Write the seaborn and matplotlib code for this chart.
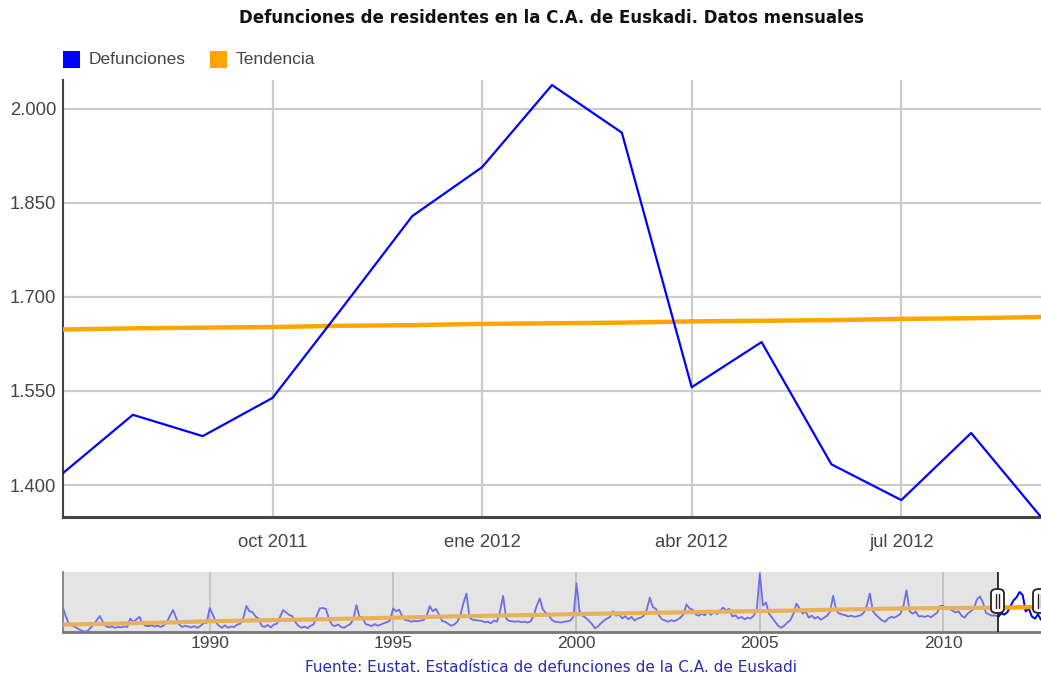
import matplotlib
matplotlib.use("Agg")
import matplotlib.pyplot as plt
import seaborn as sns
import pandas as pd
import numpy as np
from matplotlib.patches import Rectangle, FancyBboxPatch

# ---------------- data ----------------
meses_zoom = ["jul 2011", "ago 2011", "sep 2011", "oct 2011", "nov 2011", "dic 2011",
              "ene 2012", "feb 2012", "mar 2012", "abr 2012", "may 2012", "jun 2012",
              "jul 2012", "ago 2012", "sep 2012"]
defunciones = [1419, 1512, 1478, 1539, 1683, 1829, 1907, 2038, 1962, 1556, 1628, 1433,
               1376, 1483, 1349]
tendencia = [1648, 1650, 1651, 1652, 1654, 1655, 1657, 1658, 1659, 1661, 1662, 1663,
             1665, 1666, 1668]
etiquetas_x = ["oct 2011", "ene 2012", "abr 2012", "jul 2012"]
ticks_y = [1400, 1550, 1700, 1850, 2000]
etiquetas_y = ["1.400", "1.550", "1.700", "1.850", "2.000"]

# monthly history Jan 1986 - Jun 2011 (navigator)
historico = [
    1640, 1420, 1230, 1200, 1170, 1120, 1080, 1055, 1070, 1150, 1230, 1330,  # 1986
    1440, 1300, 1190, 1160, 1180, 1150, 1170, 1160, 1180, 1170, 1380, 1290,  # 1987
    1360, 1420, 1260, 1200, 1190, 1210, 1180, 1200, 1170, 1210, 1290, 1450,  # 1988
    1590, 1400, 1230, 1170, 1200, 1180, 1160, 1190, 1150, 1200, 1260, 1270,  # 1989
    1640, 1480, 1290, 1200, 1150, 1210, 1150, 1180, 1170, 1230, 1250, 1400,  # 1990
    1690, 1560, 1540, 1430, 1380, 1200, 1170, 1220, 1160, 1230, 1250, 1420,  # 1991
    1590, 1530, 1470, 1440, 1290, 1200, 1150, 1180, 1140, 1200, 1230, 1450,  # 1992
    1630, 1640, 1620, 1380, 1220, 1190, 1230, 1170, 1150, 1200, 1240, 1360,  # 1993
    1710, 1420, 1420, 1240, 1220, 1190, 1240, 1200, 1230, 1260, 1290, 1330,  # 1994
    1630, 1560, 1600, 1430, 1340, 1330, 1300, 1320, 1310, 1330, 1340, 1450,  # 1995
    1690, 1560, 1620, 1480, 1320, 1300, 1250, 1200, 1230, 1300, 1450, 1760,  # 1996
    2000, 1400, 1350, 1340, 1330, 1320, 1290, 1300, 1260, 1330, 1300, 1560,  # 1997
    1940, 1380, 1320, 1310, 1300, 1310, 1290, 1300, 1280, 1310, 1450, 1700,  # 1998
    1880, 1600, 1520, 1450, 1340, 1300, 1290, 1280, 1300, 1310, 1330, 1420,  # 1999
    2250, 1560, 1450, 1400, 1330, 1250, 1140, 1180, 1260, 1330, 1380, 1420,  # 2000
    1560, 1450, 1480, 1380, 1440, 1360, 1420, 1330, 1380, 1400, 1450, 1600,  # 2001
    1900, 1660, 1620, 1450, 1360, 1330, 1300, 1340, 1310, 1350, 1400, 1480,  # 2002
    1730, 1630, 1600, 1480, 1450, 1500, 1460, 1560, 1470, 1550, 1490, 1580,  # 2003
    1650, 1580, 1620, 1430, 1460, 1380, 1420, 1360, 1400, 1380, 1450, 1600,  # 2004
    2500, 1700, 1780, 1500, 1400, 1300, 1200, 1150, 1200, 1280, 1340, 1500,  # 2005
    1750, 1630, 1500, 1560, 1400, 1450, 1380, 1420, 1350, 1400, 1450, 1550,  # 2006
    1945, 1580, 1500, 1480, 1460, 1430, 1450, 1420, 1440, 1460, 1520, 1700,  # 2007
    2000, 1560, 1470, 1400, 1330, 1300, 1380, 1420, 1400, 1440, 1500, 1700,  # 2008
    2080, 1560, 1500, 1550, 1430, 1440, 1420, 1450, 1410, 1470, 1520, 1690,  # 2009
    1700, 1610, 1620, 1580, 1530, 1560, 1450, 1400, 1500, 1560, 1620, 1850,  # 2010
    1930, 1780, 1520, 1480, 1450, 1460,                                      # 2011 (Jan-Jun)
]
# yearly trend (January of each year) 1986-2011
anios_tendencia = list(range(1986, 2012))
tendencia_hist = [1230, 1245, 1265, 1285, 1310, 1330, 1345, 1360, 1380, 1400, 1420,
                  1440, 1455, 1470, 1490, 1505, 1520, 1535, 1550, 1565, 1580, 1600,
                  1615, 1630, 1640, 1645]
anios_nav = [1990, 1995, 2000, 2005, 2010]

titulo = "Defunciones de residentes en la C.A. de Euskadi. Datos mensuales"
fuente = "Fuente: Eustat. Estadística de defunciones de la C.A. de Euskadi"

# ---------------- figure ----------------
sns.set_theme(style="white")
plt.rcParams["font.family"] = ["Liberation Sans", "DejaVu Sans"]

W, H = 1041, 677
fig = plt.figure(figsize=(W / 100, H / 100), dpi=100)
fig.patch.set_facecolor("white")

def fx(px):
    return px / W

def fy(py):
    return 1 - py / H

BLUE = "#0000ff"
ORANGE = "#ffa500"
GRID = "#cccccc"
TXT = "#444444"

# main axes
ax = fig.add_axes([fx(63), fy(517), fx(1041) - fx(63), fy(80) - fy(517)])
df = pd.DataFrame({"mes": np.arange(len(meses_zoom)), "defunciones": defunciones,
                   "tendencia": tendencia})
sns.lineplot(data=df, x="mes", y="defunciones", ax=ax, color=BLUE, lw=1.6, zorder=4)
sns.lineplot(data=df, x="mes", y="tendencia", ax=ax, color=ORANGE, lw=3.2, zorder=3)
ax.set_xlim(0, len(meses_zoom) - 1)
ax.set_ylim(1349, 2046)
ax.set_xticks([meses_zoom.index(e) for e in etiquetas_x])
ax.set_xticklabels(etiquetas_x)
ax.set_yticks(ticks_y)
ax.set_yticklabels(etiquetas_y)
ax.grid(True, color=GRID, lw=1.6, zorder=0)
ax.set_xlabel("")
ax.set_ylabel("")
ax.tick_params(axis="both", length=0, labelsize=13.3, colors=TXT)
ax.tick_params(axis="x", pad=12)
ax.tick_params(axis="y", pad=5)
for s in ["top", "right"]:
    ax.spines[s].set_visible(False)
ax.spines["left"].set_color("#444444")
ax.spines["left"].set_linewidth(1.5)
ax.spines["bottom"].set_color("#444444")
ax.spines["bottom"].set_linewidth(2.2)
ax.set_facecolor("white")

# navigator axes
nav = fig.add_axes([fx(63), fy(632), fx(1041) - fx(63), fy(572) - fy(632)])
serie = historico + defunciones
t = [1986 + i / 12 for i in range(len(serie))]
inicio_sel = 2011 + 6 / 12
dfn = pd.DataFrame({"t": t, "v": serie})
sel = dfn[dfn["t"] >= inicio_sel - 1e-9]
nav.axvspan(1986, inicio_sel, color="#e4e4e4", zorder=0, lw=0)
for a in anios_nav:
    nav.axvline(a, color="#bdbdbd", lw=1.2, zorder=1)
tx = anios_tendencia + [inicio_sel + i / 12 for i in range(len(tendencia))]
ty = tendencia_hist + tendencia
dft = pd.DataFrame({"t": tx, "v": ty})
sns.lineplot(data=dfn, x="t", y="v", ax=nav, color="#6e6ee6", lw=1.3, zorder=3)
sns.lineplot(data=dft, x="t", y="v", ax=nav, color="#e8b25c", lw=3.0, zorder=4)
sns.lineplot(data=sel, x="t", y="v", ax=nav, color=BLUE, lw=1.3, zorder=5)
sns.lineplot(data=dft[dft["t"] >= inicio_sel - 1e-9], x="t", y="v", ax=nav,
             color=ORANGE, lw=3.0, zorder=6)
nav.axvline(inicio_sel, color="#222222", lw=1.3, zorder=7)
nav.set_xlim(1986, t[-1])
nav.set_ylim(1045, 2535)
nav.set_xticks(anios_nav)
nav.set_xticklabels([str(a) for a in anios_nav])
nav.set_yticks([])
nav.set_xlabel("")
nav.set_ylabel("")
nav.tick_params(axis="x", length=0, labelsize=12.5, colors=TXT, pad=3)
for s in ["top", "right"]:
    nav.spines[s].set_visible(False)
nav.spines["left"].set_color("#777777")
nav.spines["left"].set_linewidth(1.2)
nav.spines["bottom"].set_color("#777777")
nav.spines["bottom"].set_linewidth(2.0)
nav.set_facecolor("white")

# navigator handles
for cx in [997.5, 1039.5]:
    hb = FancyBboxPatch((fx(cx - 6.5), fy(613)), fx(13), fy(589) - fy(613),
                        boxstyle="round,pad=0,rounding_size=0.006",
                        transform=fig.transFigure, facecolor="white",
                        edgecolor="#222222", lw=1.3, zorder=10)
    fig.add_artist(hb)
    for dx in [-1.8, 1.8]:
        fig.add_artist(plt.Line2D([fx(cx + dx), fx(cx + dx)], [fy(608), fy(594)],
                                  transform=fig.transFigure, color="#222222", lw=1.0,
                                  zorder=11))

# title
fig.text(fx(551), fy(18), titulo, ha="center", va="center", fontsize=12,
         fontweight="bold", color="#111111", family=["DejaVu Sans"])

# legend
for x0, col, lab in [(63, BLUE, "Defunciones"), (210, ORANGE, "Tendencia")]:
    fig.add_artist(Rectangle((fx(x0), fy(68)), fx(17), fy(51) - fy(68),
                             transform=fig.transFigure, facecolor=col, edgecolor="none"))
    fig.text(fx(x0 + 26), fy(60), lab, ha="left", va="center", fontsize=12.5, color=TXT)

# source
fig.text(fx(551), fy(667), fuente, ha="center", va="center", fontsize=11,
         color="#2a2ab8", family=["DejaVu Sans"])

fig.savefig("out.png", dpi=100, facecolor="white")
